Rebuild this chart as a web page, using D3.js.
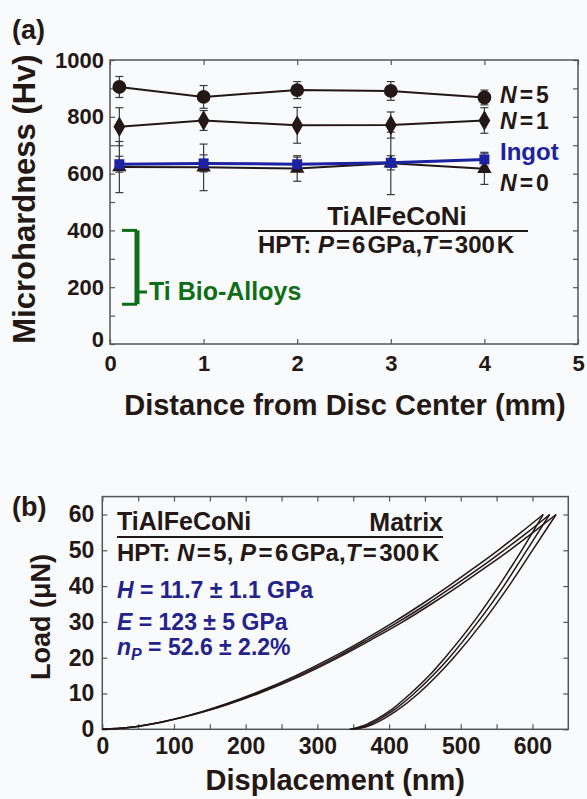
<!DOCTYPE html>
<html><head><meta charset="utf-8">
<script src="https://cdn.jsdelivr.net/npm/d3@7"></script>
<style>
body{margin:0;background:#f9fafb;}
svg{display:block;font-family:"Liberation Sans",Arial,sans-serif;font-weight:bold;}
</style></head><body>
<svg id="fig" width="587" height="799"></svg>
<script>
// ---- Panel (a): microhardness across the HPT disc ----
const distances = [0.1, 1, 2, 3, 4];
const hvN5 = [905, 870, 894, 891, 868];
const hvN5Err = [37, 40, 30, 33, 26];
const hvN1 = [765, 787, 770, 771, 787];
const hvN1Err = [67, 35, 63, 46, 45];
const hvIngot = [633, 636, 633, 638, 650];
const hvIngotErr = [28, 30, 25, 25, 25];
const hvN0 = [623, 622, 618, 636, 617];
const hvN0Err = [90, 82, 45, 110, 55];
const bioAlloyRange = [140, 400];
const hvTicks = [0, 100, 200, 300, 400, 500, 600, 700, 800, 900, 1000];
const distTicks = [0, 1, 2, 3, 4, 5];

// ---- Panel (b): nanoindentation load-displacement curves ----
const loadLevels = [0, 0.5, 2, 5, 10, 15, 20, 25, 30, 35, 40, 45, 50, 55, 60];
const loadingDisp = [
  [0, 36, 81, 140, 212, 270, 320, 365, 407, 446, 483, 518, 552, 584, 615],
  [0, 37, 82, 142, 215, 274, 325, 370, 413, 453, 490, 526, 560, 593, 624],
  [0, 37, 83, 144, 218, 278, 329, 375, 419, 459, 497, 533, 568, 601, 633]
];
const unloadLevels = [0, 1, 3, 5, 10, 15, 20, 30, 40, 50, 60];
const unloadingDisp = [
  [345, 364, 384, 400, 430, 456, 478, 518, 553, 585, 615],
  [348, 368, 388, 404, 435, 461, 484, 524, 560, 592, 624],
  [352, 372, 393, 409, 441, 467, 490, 531, 567, 600, 633]
];
const loadTicks = [0, 10, 20, 30, 40, 50, 60];
const dispTicks = [0, 50, 100, 150, 200, 250, 300, 350, 400, 450, 500, 550, 600];

const INK = "#231815", AXIS = "#555", BLUE = "#1c22a0", NAVY = "#24238c", GREEN = "#0d6e17";
const svg = d3.select("#fig");

function styleAxis(g, size) {
  g.select(".domain").remove();
  g.selectAll(".tick line").attr("stroke", AXIS).attr("stroke-width", 1.2);
  g.selectAll(".tick text").attr("fill", INK).attr("font-size", size)
    .attr("font-family", "Liberation Sans, Arial, sans-serif").attr("font-weight", "bold");
}

// text made of runs: [string, italic?, dx, extra attrs]
function rich(g, x, y, size, color, parts, anchor) {
  const t = g.append("text").attr("x", x).attr("y", y).attr("font-size", size).attr("fill", color);
  if (anchor) t.attr("text-anchor", anchor);
  parts.forEach(p => {
    const s = t.append("tspan").text(p[0]);
    if (p[1]) s.attr("font-style", "italic");
    if (p[2]) s.attr("dx", p[2]);
    if (p[3]) Object.entries(p[3]).forEach(([k, v]) => s.attr(k, v));
  });
  return t;
}

// ===== Panel (a) =====
const xa = d3.scaleLinear().domain([0, 5]).range([110, 578]);
const ya = d3.scaleLinear().domain([0, 1000]).range([344, 60]);
const ga = svg.append("g");

ga.append("g").attr("transform", `translate(${xa(0)},0)`)
  .call(d3.axisLeft(ya).tickValues(hvTicks).tickSize(-5).tickPadding(6)
    .tickFormat(d => d % 200 === 0 ? d : ""))
  .call(g => styleAxis(g, 22))
  .call(g => g.selectAll(".tick text").filter(d => d === 0).attr("dy", "0.1em"));
ga.append("g").attr("transform", `translate(${xa(5)},0)`)
  .call(d3.axisRight(ya).tickValues(hvTicks).tickSize(-5).tickFormat(""))
  .call(g => styleAxis(g, 22));
ga.append("g").attr("transform", `translate(0,${ya(0)})`)
  .call(d3.axisBottom(xa).tickValues(distTicks).tickSize(-5).tickPadding(11).tickFormat(d3.format("d")))
  .call(g => styleAxis(g, 22));
ga.append("g").attr("transform", `translate(0,${ya(1000)})`)
  .call(d3.axisTop(xa).tickValues(distTicks).tickSize(-5).tickFormat(""))
  .call(g => styleAxis(g, 22));
ga.append("rect").attr("x", xa(0)).attr("y", ya(1000))
  .attr("width", xa(5) - xa(0)).attr("height", ya(0) - ya(1000))
  .attr("fill", "none").attr("stroke", AXIS).attr("stroke-width", 1.5);

// error bars
function errorBars(vals, errs, color) {
  const g = ga.append("g").attr("stroke", color).attr("stroke-width", 1.2).attr("fill", "none");
  distances.forEach((d, i) => {
    const x = xa(d), y0 = ya(vals[i] - errs[i]), y1 = ya(vals[i] + errs[i]);
    g.append("line").attr("x1", x).attr("x2", x).attr("y1", y0).attr("y2", y1);
    g.append("line").attr("x1", x - 4).attr("x2", x + 4).attr("y1", y0).attr("y2", y0);
    g.append("line").attr("x1", x - 4).attr("x2", x + 4).attr("y1", y1).attr("y2", y1);
  });
}
errorBars(hvN0, hvN0Err, "#3a3a3a");
errorBars(hvIngot, hvIngotErr, "#3a3a5a");
errorBars(hvN1, hvN1Err, "#3a3a3a");
errorBars(hvN5, hvN5Err, "#3a3a3a");

const lineA = d3.line().x((d, i) => xa(distances[i])).y(d => ya(d));
function series(vals, color, width, symbol, size) {
  ga.append("path").datum(vals).attr("d", lineA)
    .attr("fill", "none").attr("stroke", color).attr("stroke-width", width);
  ga.append("g").selectAll("path").data(vals).join("path")
    .attr("transform", (d, i) => `translate(${xa(distances[i])},${ya(d)})`)
    .attr("d", d3.symbol(symbol, size)).attr("fill", color);
}
series(hvN0, INK, 2, d3.symbolTriangle, 90);
series(hvIngot, BLUE, 3, d3.symbolSquare, 100);
series(hvN1, INK, 2, d3.symbolDiamond, 120);
series(hvN5, INK, 2, d3.symbolCircle, 150);

// series labels
const nParts = n => [["N", true], ["=", false, 3], [n, false, 3]];
rich(ga, 500, 103, 23, INK, nParts("5"));
rich(ga, 500, 129, 23, INK, nParts("1"));
ga.append("text").attr("x", 500).attr("y", 160).attr("fill", BLUE).attr("font-size", 24).text("Ingot");
rich(ga, 500, 191, 23, INK, nParts("0"));

// Ti bio-alloy range bracket
const bx = 137;
const gb = ga.append("g").attr("stroke", GREEN).attr("fill", "none");
gb.append("line").attr("x1", bx).attr("x2", bx).attr("y1", ya(bioAlloyRange[1])).attr("y2", ya(bioAlloyRange[0])).attr("stroke-width", 5);
gb.append("line").attr("x1", 122).attr("x2", bx).attr("y1", ya(bioAlloyRange[1])).attr("y2", ya(bioAlloyRange[1])).attr("stroke-width", 3);
gb.append("line").attr("x1", 122).attr("x2", bx).attr("y1", ya(bioAlloyRange[0])).attr("y2", ya(bioAlloyRange[0])).attr("stroke-width", 3);
gb.append("line").attr("x1", bx).attr("x2", 147).attr("y1", 292).attr("y2", 292).attr("stroke-width", 3);
ga.append("text").attr("x", 149).attr("y", 300).attr("fill", GREEN).attr("font-size", 25).text("Ti Bio-Alloys");

// alloy / processing annotation
ga.append("text").attr("x", 397).attr("y", 225).attr("text-anchor", "middle").attr("fill", INK).attr("font-size", 26).text("TiAlFeCoNi");
ga.append("line").attr("x1", 258).attr("x2", 528).attr("y1", 231).attr("y2", 231).attr("stroke", INK).attr("stroke-width", 2);
rich(ga, 258, 253, 24, INK, [["HPT: "], ["P", true], ["=", false, 2], ["6", false, 2], ["GPa,", false, 2],
  ["T", true], ["=", false, 2], ["300", false, 2], ["K", false, 2]]);

ga.append("text").attr("x", 12).attr("y", 39).attr("fill", INK).attr("font-size", 27).text("(a)");
ga.append("text").attr("transform", `translate(35,${(ya(0) + ya(1000)) / 2 - 3}) rotate(-90)`)
  .attr("text-anchor", "middle").attr("fill", INK).attr("font-size", 31).text("Microhardness (Hv)");
ga.append("text").attr("x", 345).attr("y", 415)
  .attr("text-anchor", "middle").attr("fill", INK).attr("font-size", 29).text("Distance from Disc Center (mm)");

// ===== Panel (b) =====
const xb = d3.scaleLinear().domain([0, 650]).range([102.3, 568.3]);
const yb = d3.scaleLinear().domain([0, 65]).range([729.3, 496.6]);
const gp = svg.append("g");

gp.append("g").attr("transform", `translate(${xb(0)},0)`)
  .call(d3.axisLeft(yb).tickValues(loadTicks).tickSize(-5).tickPadding(8))
  .call(g => styleAxis(g, 23));
gp.append("g").attr("transform", `translate(${xb(650)},0)`)
  .call(d3.axisRight(yb).tickValues(loadTicks).tickSize(-5).tickFormat(""))
  .call(g => styleAxis(g, 23));
gp.append("g").attr("transform", `translate(0,${yb(0)})`)
  .call(d3.axisBottom(xb).tickValues(dispTicks).tickSize(-5).tickPadding(8)
    .tickFormat(d => d % 100 === 0 ? d : ""))
  .call(g => styleAxis(g, 23));
gp.append("g").attr("transform", `translate(0,${yb(65)})`)
  .call(d3.axisTop(xb).tickValues(dispTicks).tickSize(-5).tickFormat(""))
  .call(g => styleAxis(g, 23));
gp.append("rect").attr("x", xb(0)).attr("y", yb(65))
  .attr("width", xb(650) - xb(0)).attr("height", yb(0) - yb(65))
  .attr("fill", "none").attr("stroke", AXIS).attr("stroke-width", 1.5);

const curve = levels => d3.line().curve(d3.curveMonotoneX)
  .x(d => xb(d)).y((d, i) => yb(levels[i]));
loadingDisp.forEach(arr => gp.append("path").datum(arr).attr("d", curve(loadLevels))
  .attr("fill", "none").attr("stroke", INK).attr("stroke-width", 1.5));
unloadingDisp.forEach(arr => gp.append("path").datum(arr).attr("d", curve(unloadLevels))
  .attr("fill", "none").attr("stroke", INK).attr("stroke-width", 1.5));

gp.append("text").attr("x", 117).attr("y", 530).attr("fill", INK).attr("font-size", 25).text("TiAlFeCoNi");
gp.append("text").attr("x", 443).attr("y", 531).attr("text-anchor", "end").attr("fill", INK).attr("font-size", 25).text("Matrix");
gp.append("line").attr("x1", 117).attr("x2", 443).attr("y1", 537).attr("y2", 537).attr("stroke", INK).attr("stroke-width", 2);
rich(gp, 117, 561, 24, INK, [["HPT: "], ["N", true], ["=", false, 2.5], ["5,", false, 2.5], [" "], ["P", true],
  ["=", false, 2.5], ["6", false, 2.5], ["GPa,", false, 2.5], ["T", true], ["=", false, 2.5], ["300", false, 2.5], ["K", false, 2.5]]);
rich(gp, 117, 598, 23, NAVY, [["H", true], [" = 11.7 ± 1.1 GPa"]]);
rich(gp, 117, 630, 23, NAVY, [["E", true], [" = 123 ± 5 GPa"]]);
rich(gp, 117, 655, 23, NAVY, [["n", true], ["P", true, 0, { "font-size": 16, dy: 5 }], [" = 52.6 ± 2.2%", false, 0, { dy: -5 }]]);

gp.append("text").attr("x", 12).attr("y", 516).attr("fill", INK).attr("font-size", 27).text("(b)");
gp.append("text").attr("transform", `translate(50,${(yb(0) + yb(60)) / 2 - 5}) rotate(-90)`)
  .attr("text-anchor", "middle").attr("fill", INK).attr("font-size", 27).text("Load (μN)");
gp.append("text").attr("x", (xb(0) + xb(650)) / 2).attr("y", 790)
  .attr("text-anchor", "middle").attr("fill", INK).attr("font-size", 29).text("Displacement (nm)");
</script>
</body></html>
